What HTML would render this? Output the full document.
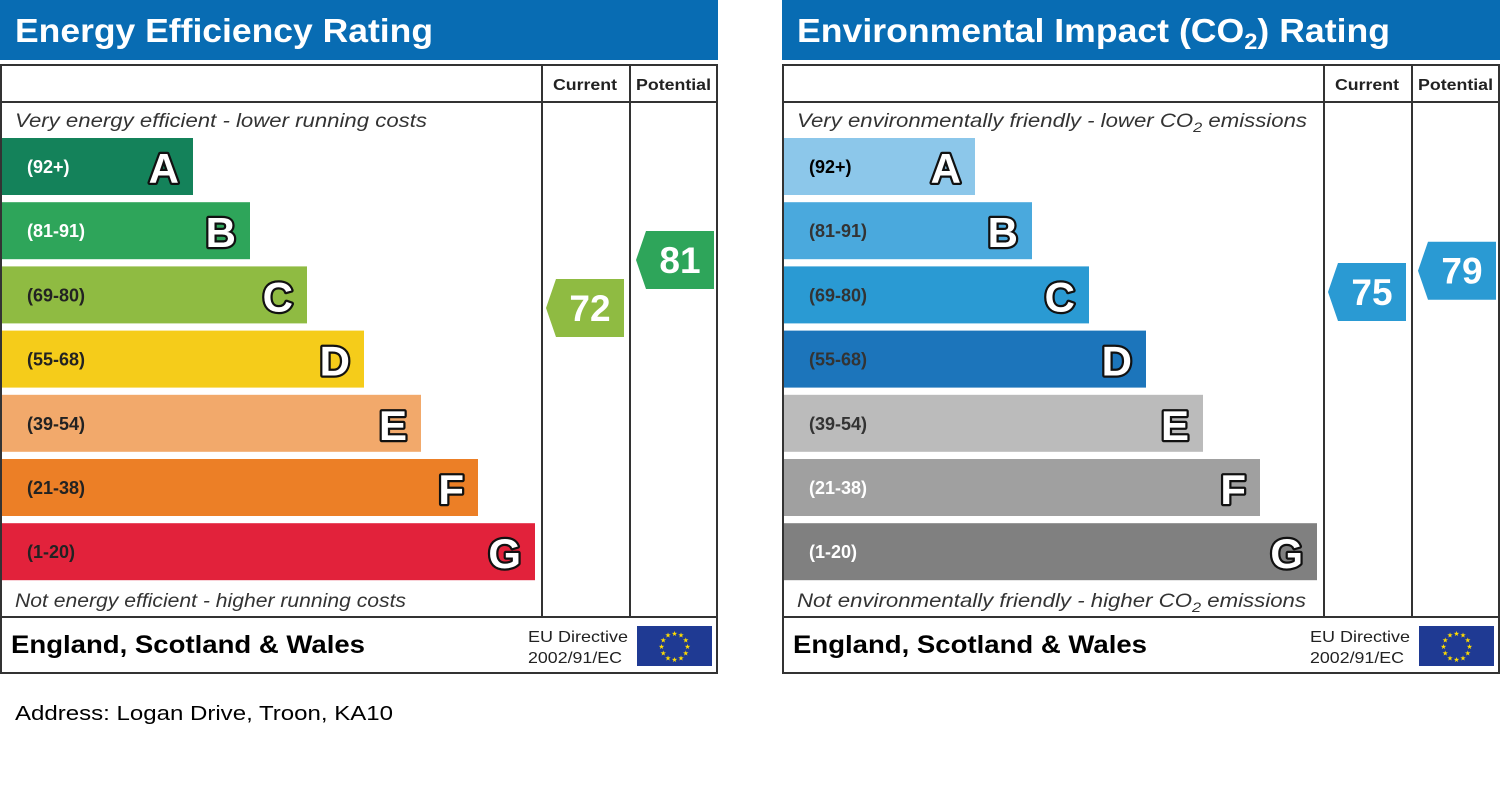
<!DOCTYPE html>
<html><head><meta charset="utf-8"><style>
html,body{margin:0;padding:0;background:#fff;}
svg{display:block;font-family:"Liberation Sans",Arial,sans-serif;}
</style></head><body>
<svg id="c" width="1501" height="805" viewBox="0 0 1501 805" xmlns="http://www.w3.org/2000/svg"></svg>
<script>
const bandLetters = ["A","B","C","D","E","F","G"];
const bandRanges = ["(92+)","(81-91)","(69-80)","(55-68)","(39-54)","(21-38)","(1-20)"];
const eeColors = ["#14825a","#2ea55a","#8fbb42","#f5cc1a","#f2a96b","#ec7f26","#e2223b"];
const eeRangeColors = ["#fff","#fff","#222","#222","#222","#222","#222"];
const co2Colors = ["#8cc7ea","#4aa9dd","#2a9ad3","#1c75bb","#bbbbbb","#a0a0a0","#808080"];
const co2RangeColors = ["#000","#333","#333","#333","#333","#fff","#fff"];
const eeCurrent = 72, eePotential = 81;
const co2Current = 75, co2Potential = 79;

const NS="http://www.w3.org/2000/svg";
const svg=document.getElementById('c');
function mk(tag,attrs,parent,text){const e=document.createElementNS(NS,tag);for(const k in attrs)e.setAttribute(k,attrs[k]);if(text!==undefined)e.textContent=text;(parent||svg).appendChild(e);return e;}
function fit(e,w){e.setAttribute('textLength',w);e.setAttribute('lengthAdjust','spacingAndGlyphs');return e;}
function bandTop(i){return 138+i*64.2;}
function bandRight(i){return 193+i*57;}
function ratingY(v){return 308-(v-72)*5.33;}
function ratingColor(v,cols){if(v>=92)return cols[0];if(v>=81)return cols[1];if(v>=69)return cols[2];if(v>=55)return cols[3];if(v>=39)return cols[4];if(v>=21)return cols[5];return cols[6];}

function panel(ox,title,titleW,topTxt,topW,botTxt,botW,cols,rcols,cur,pot,name){
  const g=mk('g',{transform:`translate(${ox},0)`});
  
  
  const h=mk('rect',{x:0,y:0,width:718,height:60,fill:'#086cb3'},g);
  
  const t=mk('text',{x:15,y:42,fill:'#fff','font-size':33,'font-weight':'bold'},g);
  
  t.innerHTML=title;fit(t,titleW);
  const fr=mk('rect',{x:1,y:65,width:716,height:608,fill:'#fff',stroke:'#333','stroke-width':2},g);
  
  mk('line',{x1:1,y1:102,x2:717,y2:102,stroke:'#333','stroke-width':2},g);
  mk('line',{x1:1,y1:617,x2:717,y2:617,stroke:'#333','stroke-width':2},g);
  mk('line',{x1:542,y1:65,x2:542,y2:617,stroke:'#333','stroke-width':2},g);
  mk('line',{x1:630,y1:65,x2:630,y2:617,stroke:'#333','stroke-width':2},g);
  const c1=fit(mk('text',{x:553,y:90,'font-size':16,'font-weight':'bold',fill:'#222'},g,'Current'),64);
  
  const c2=fit(mk('text',{x:636,y:90,'font-size':16,'font-weight':'bold',fill:'#222'},g,'Potential'),75);
  
  const tt=mk('text',{x:15,y:127,'font-size':19,'font-style':'italic',fill:'#333'},g);
  tt.innerHTML=topTxt;fit(tt,topW);
  const bt=mk('text',{x:15,y:607,'font-size':19,'font-style':'italic',fill:'#333'},g);
  bt.innerHTML=botTxt;fit(bt,botW);
  bandLetters.forEach((L,i)=>{
    const y=bandTop(i),r=bandRight(i);
    const b=mk('rect',{x:2,y:y,width:r-2,height:57,fill:cols[i]},g);
    
    
    const rt=mk('text',{x:27,y:y+35,'font-size':18,'font-weight':'bold',fill:rcols[i]},g,bandRanges[i]);
    
    
    const lt=mk('text',{x:r-14,y:y+45,'text-anchor':'end','font-size':42,'font-weight':'bold',fill:'#fff',stroke:'#111','stroke-width':4.5,'stroke-linejoin':'round','paint-order':'stroke'},g,L);
    
    
  });
  [[cur,546,'current-rating'],[pot,636,'potential-rating']].forEach(([v,x,n])=>{
    const yc=ratingY(v);
    const p=mk('polygon',{points:`${x},${yc} ${x+10},${yc-29} ${x+78},${yc-29} ${x+78},${yc+29} ${x+10},${yc+29}`,fill:ratingColor(v,cols)},g);
    
    const vt=mk('text',{x:x+44,y:yc+13,'text-anchor':'middle','font-size':37,'font-weight':'bold',fill:'#fff'},g,String(v));
    
  });
  const ft=fit(mk('text',{x:11,y:653,'font-size':25,'font-weight':'bold',fill:'#000'},g,'England, Scotland & Wales'),354);
  
  const d1=fit(mk('text',{x:528,y:642,'font-size':16,fill:'#222'},g,'EU Directive'),100);
  
  fit(mk('text',{x:528,y:663,'font-size':16,fill:'#222'},g,'2002/91/EC'),94);
  const fl=mk('rect',{x:637,y:626,width:75,height:40,fill:'#1f3a93'},g);
  
  for(let k=0;k<12;k++){const a=k*Math.PI/6;mk('text',{x:674.5+13*Math.sin(a),y:649+13*Math.cos(a),'text-anchor':'middle','font-size':7,fill:'#ffdd00'},g,'★');}
}
panel(0,'Energy Efficiency Rating',418,'Very energy efficient - lower running costs',412,'Not energy efficient - higher running costs',391,eeColors,eeRangeColors,eeCurrent,eePotential,'energy-efficiency-panel');
panel(782,'Environmental Impact (CO<tspan font-size="22" dy="7">2</tspan><tspan dy="-7">) Rating</tspan>',593,'Very environmentally friendly - lower CO<tspan font-size="14" dy="5">2</tspan><tspan dy="-5"> emissions</tspan>',510,'Not environmentally friendly - higher CO<tspan font-size="14" dy="5">2</tspan><tspan dy="-5"> emissions</tspan>',509,co2Colors,co2RangeColors,co2Current,co2Potential,'environmental-impact-panel');
const ad=fit(mk('text',{x:15,y:720,'font-size':20,fill:'#000'},svg,'Address: Logan Drive, Troon, KA10'),378);


</script>
</body></html>
